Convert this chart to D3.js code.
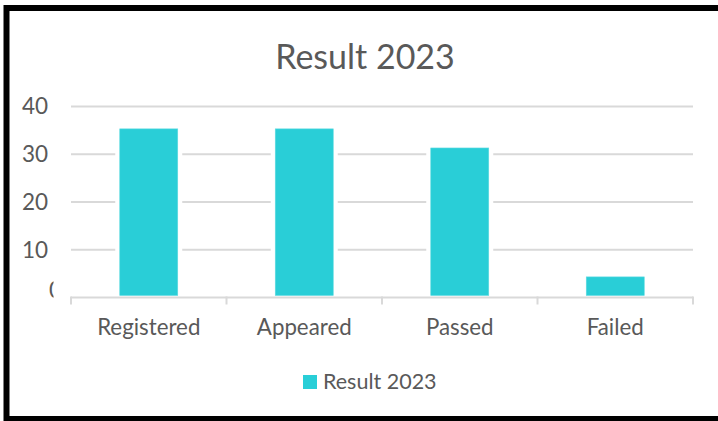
<!DOCTYPE html>
<html>
<head>
<meta charset="utf-8">
<script src="https://cdn.jsdelivr.net/npm/d3@7"></script>
<style>
body { margin: 0; background: #fff; }
text { font-family: Lato, "Open Sans", sans-serif; fill: #595959; }
</style>
</head>
<body>
<svg width="718" height="421"></svg>
<script>
// data
const categories = ["Registered", "Appeared", "Passed", "Failed"];
const values = [35, 35, 31, 4];
const yTicks = [0, 10, 20, 30, 40];
const seriesName = "Result 2023";
const chartTitle = "Result 2023";

const width = 718, height = 421;
const margin = {top: 106.5, right: 25, bottom: 123.5, left: 71};
const plotW = width - margin.left - margin.right,
      plotH = height - margin.top - margin.bottom;

const barColor = "#29ced7";
const gridColor = "#d9d9d9";

const svg = d3.select("svg");

// outer frame (right edge is cut off in the original)
svg.append("rect")
    .attr("x", 6.5).attr("y", 8)
    .attr("width", 800).attr("height", 411)
    .attr("fill", "none")
    .attr("stroke", "#000")
    .attr("stroke-width", 6);

// title
svg.append("text")
    .attr("x", 365)
    .attr("y", 69)
    .attr("text-anchor", "middle")
    .attr("font-size", "34px")
    .text(chartTitle);

const g = svg.append("g")
    .attr("transform", `translate(${margin.left},${margin.top})`);

const x = d3.scaleBand()
    .domain(categories)
    .range([0, plotW])
    .paddingInner(0.627)
    .paddingOuter(0.3135);

const y = d3.scaleLinear()
    .domain([0, 40])
    .range([plotH, 0]);

// gridlines
g.append("g")
    .selectAll("line")
    .data(yTicks.filter(d => d > 0))
    .join("line")
    .attr("x1", 0).attr("x2", plotW)
    .attr("y1", d => y(d)).attr("y2", d => y(d))
    .attr("stroke", gridColor)
    .attr("stroke-width", 2);

// y labels
g.append("g")
    .selectAll("text")
    .data(yTicks.filter(d => d > 0))
    .join("text")
    .attr("x", -23)
    .attr("y", d => y(d))
    .attr("dy", "0.35em")
    .attr("text-anchor", "end")
    .attr("font-size", "22.5px")
    .text(d => d);

// the zero label is mostly hidden in the original
svg.append("clipPath").attr("id", "zeroClip")
    .append("rect").attr("x", 0).attr("y", 270).attr("width", 53.5).attr("height", 40);
g.append("text")
    .attr("clip-path", "url(#zeroClip)")
    .attr("transform", `translate(${-margin.left},${-margin.top})`)
    .attr("x", 49)
    .attr("y", y(0) - 7 + margin.top)
    .attr("dy", "0.35em")
    .attr("font-size", "22.5px")
    .text(yTicks[0]);

// white halo behind bars (cuts the gridlines)
g.append("g")
    .selectAll("rect")
    .data(values)
    .join("rect")
    .attr("x", (d, i) => x(categories[i]) - 4.5)
    .attr("y", d => y(d) - 1)
    .attr("width", x.bandwidth() + 9)
    .attr("height", d => y(0) - y(d))
    .attr("fill", "#fff");

// bars
g.append("g")
    .selectAll("rect")
    .data(values)
    .join("rect")
    .attr("x", (d, i) => x(categories[i]))
    .attr("y", d => y(d) - 1.5)
    .attr("width", x.bandwidth())
    .attr("height", d => y(0) - y(d) - 0.5)
    .attr("fill", barColor)
    .attr("stroke", "#5fdbe1")
    .attr("stroke-width", 0.6);

// x axis
const xAxis = g.append("g")
    .attr("transform", `translate(0,${plotH})`);
xAxis.append("line")
    .attr("x1", 0).attr("x2", plotW)
    .attr("stroke", gridColor).attr("stroke-width", 2);
const edges = categories.map(c => x(c) - x.step() * x.paddingInner() / 2)
    .concat([plotW]);
xAxis.selectAll(".tick")
    .data(edges)
    .join("line")
    .attr("class", "tick")
    .attr("x1", d => d).attr("x2", d => d)
    .attr("y1", -1).attr("y2", 7)
    .attr("stroke", gridColor).attr("stroke-width", 2);
xAxis.selectAll(".lbl")
    .data(categories)
    .join("text")
    .attr("class", "lbl")
    .attr("x", d => x(d) + x.bandwidth() / 2)
    .attr("y", 37.5)
    .attr("text-anchor", "middle")
    .attr("font-size", "22.3px")
    .text(d => d);

// legend
const legend = svg.append("g").attr("transform", "translate(303,375)");
legend.append("rect")
    .attr("width", 14).attr("height", 14)
    .attr("fill", barColor);
legend.append("text")
    .attr("x", 20).attr("y", 13.5)
    .attr("font-size", "21.5px")
    .text(seriesName);
</script>
</body>
</html>
